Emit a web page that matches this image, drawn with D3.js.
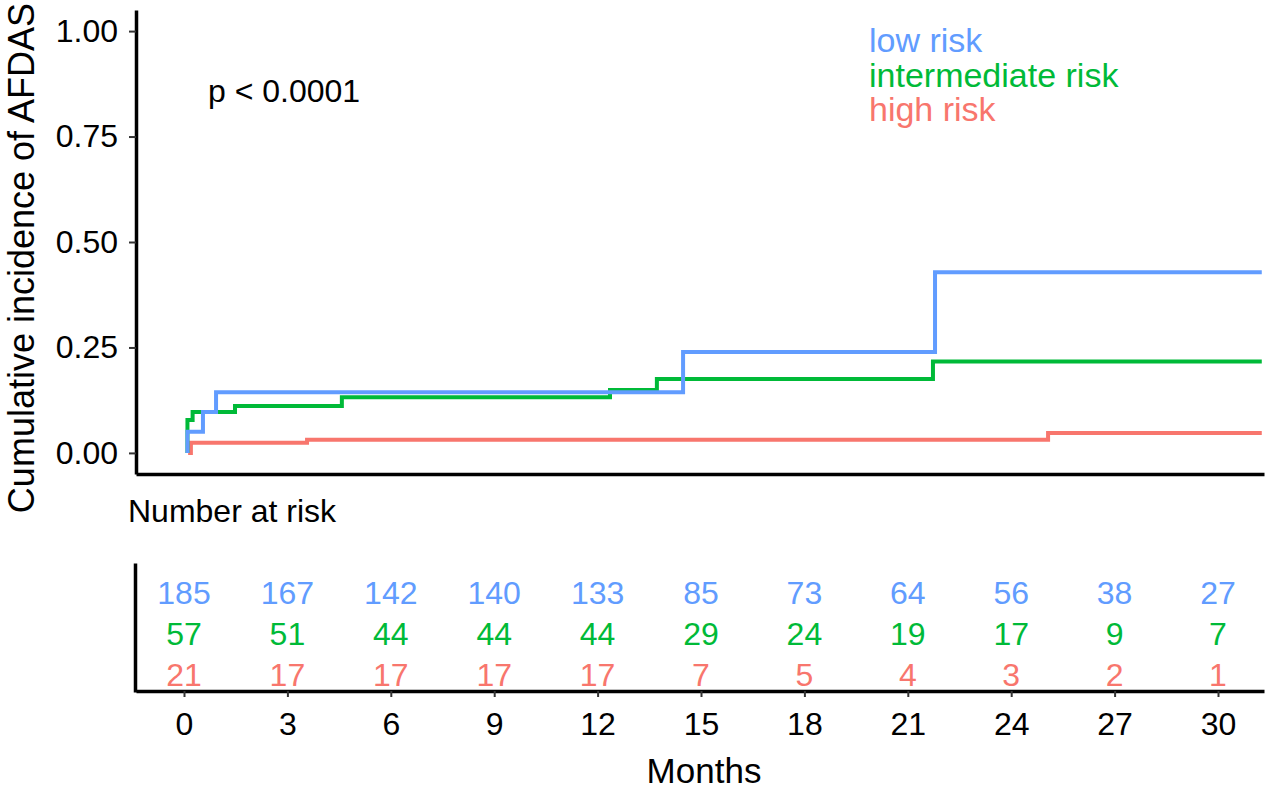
<!DOCTYPE html>
<html>
<head>
<meta charset="utf-8">
<script src="https://cdn.jsdelivr.net/npm/d3@7"></script>
<style>
  body { margin: 0; background: #fff; }
  text { font-family: "Liberation Sans", Arial, sans-serif; }
</style>
</head>
<body>
<div id="chart"></div>
<script>
// cumulative incidence steps (months, value)
const lowTime = [0.1, 0.1, 0.55, 0.93, 14.48, 21.79, 31.27];
const lowInc = [0, 0.05, 0.097, 0.144, 0.239, 0.428, 0.428];
const midTime = [0.1, 0.1, 0.25, 1.48, 4.58, 12.36, 13.72, 21.73, 31.27];
const midInc = [0, 0.078, 0.097, 0.111, 0.132, 0.149, 0.175, 0.217, 0.217];
const highTime = [0.12, 0.2, 3.57, 25.07, 31.27];
const highInc = [0, 0.024, 0.031, 0.047, 0.047];

const groups = ["low risk", "intermediate risk", "high risk"];
const groupColors = ["#619CFF", "#00BA38", "#F8766D"];

const riskMonths = [0, 3, 6, 9, 12, 15, 18, 21, 24, 27, 30];
const atRiskLow = [185, 167, 142, 140, 133, 85, 73, 64, 56, 38, 27];
const atRiskMid = [57, 51, 44, 44, 44, 29, 24, 19, 17, 9, 7];
const atRiskHigh = [21, 17, 17, 17, 17, 7, 5, 4, 3, 2, 1];

const yTicks = [0, 0.25, 0.5, 0.75, 1];

const W = 1276, H = 790;
const svg = d3.select("#chart").append("svg").attr("width", W).attr("height", H);

const x = d3.scaleLinear().domain([0, 30]).range([184, 1218]);
const xFull = d3.scaleLinear().domain([x.invert(136), x.invert(1264)]).range([136, 1264]);
const y = d3.scaleLinear().domain([-0.05, 1.05]).range([474, 10]);

function styleAxis(g, width) {
  g.select(".domain").attr("stroke", "#000").attr("stroke-width", width);
  g.selectAll(".tick line").attr("stroke", "#333").attr("stroke-width", 2);
  g.selectAll(".tick text").attr("fill", "#000").style("font-size", "32px")
    .style("font-family", "'Liberation Sans', Arial, sans-serif");
}

// main plot axes
svg.append("g").attr("transform", "translate(136,0)")
  .call(d3.axisLeft(y).tickValues(yTicks).tickFormat(d3.format(".2f"))
    .tickSize(7).tickPadding(11).tickSizeOuter(0))
  .call(g => styleAxis(g, 3.5));

svg.append("g").attr("transform", "translate(0,474)")
  .call(d3.axisBottom(xFull).tickValues([]).tickSizeOuter(0))
  .call(g => styleAxis(g, 3.5));

// curves, low risk drawn last (on top)
const series = [
  { name: groups[2], t: highTime, v: highInc, color: groupColors[2] },
  { name: groups[1], t: midTime, v: midInc, color: groupColors[1] },
  { name: groups[0], t: lowTime, v: lowInc, color: groupColors[0] }
];
const line = d3.line().curve(d3.curveStepAfter).x(d => x(d[0])).y(d => y(d[1]));
series.forEach(s => {
  svg.append("path")
    .datum(s.t.map((t, i) => [t, s.v[i]]))
    .attr("d", line)
    .attr("fill", "none")
    .attr("stroke", s.color)
    .attr("stroke-width", 4);
});

// p value
svg.append("text").attr("x", 208).attr("y", 102)
  .style("font-size", "32px").text("p < 0.0001");

// legend
groups.forEach((g, i) => {
  svg.append("text").attr("x", 869).attr("y", 52 + i * 34.5)
    .style("font-size", "34px").attr("fill", groupColors[i]).text(g);
});

// y title
svg.append("text")
  .attr("transform", "translate(34,258) rotate(-90)")
  .attr("text-anchor", "middle")
  .style("font-size", "36px")
  .text("Cumulative incidence of AFDAS");

// risk table
svg.append("text").attr("x", 128).attr("y", 522)
  .style("font-size", "32px").text("Number at risk");

const rowY = d3.scalePoint().domain(groups).range([592, 674]);
const tableRows = [atRiskLow, atRiskMid, atRiskHigh];
tableRows.forEach((row, gi) => {
  svg.append("g").selectAll("text")
    .data(row)
    .join("text")
    .attr("x", (d, i) => x(riskMonths[i]))
    .attr("y", rowY(groups[gi]))
    .attr("dy", "0.36em")
    .attr("text-anchor", "middle")
    .attr("fill", groupColors[gi])
    .style("font-size", "32px")
    .text(d => d);
});

svg.append("g").attr("transform", "translate(135,0)")
  .call(d3.axisLeft(d3.scaleLinear().range([692, 563])).tickValues([]).tickSizeOuter(0))
  .call(g => styleAxis(g, 3.5));

svg.append("g").attr("transform", "translate(0,691)")
  .call(d3.axisBottom(xFull).tickValues(riskMonths).tickSize(6).tickPadding(15).tickSizeOuter(0))
  .call(g => styleAxis(g, 3.5));

svg.append("text").attr("x", 704).attr("y", 783)
  .attr("text-anchor", "middle")
  .style("font-size", "35px").text("Months");
</script>
</body>
</html>
